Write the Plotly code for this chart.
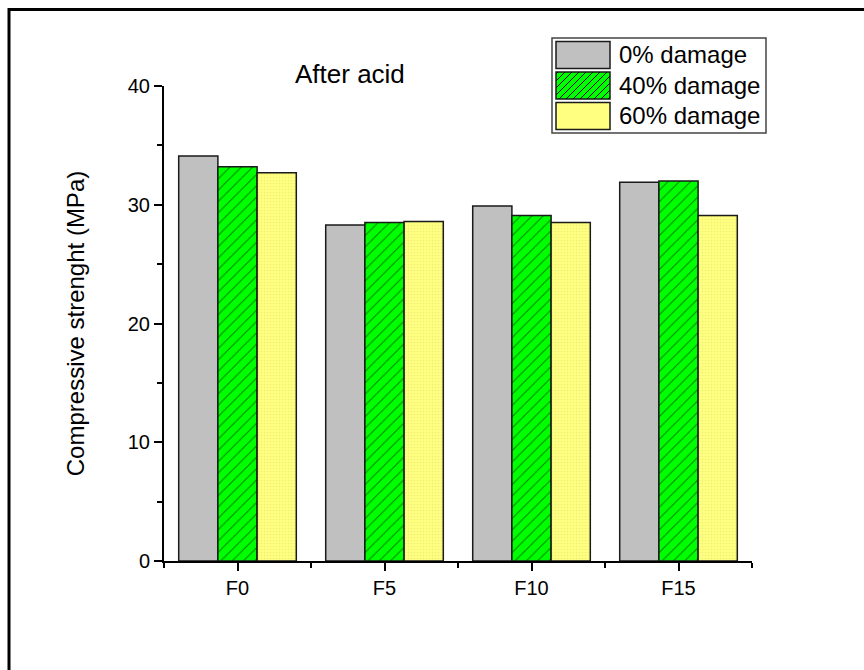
import plotly.graph_objects as go

# ---- data ----
categories = ["F0", "F5", "F10", "F15"]
series_names = ["0% damage", "40% damage", "60% damage"]
damage_0 = [34.1, 28.3, 29.9, 31.9]
damage_40 = [33.2, 28.5, 29.1, 32.0]
damage_60 = [32.7, 28.6, 28.5, 29.1]
y_ticks = [0, 10, 20, 30, 40]

# ---- layout geometry (pixels) ----
W, H = 864, 670
L, R, T, B = 164, 752, 86, 561


def px(x):
    return (x - L) / (R - L)


def py(y):
    return (B - y) / (B - T)


xpos = list(range(len(categories)))
FONT = "Liberation Sans, Arial, sans-serif"
OUT = dict(color="#1a1a1a", width=1.5)

fig = go.Figure()
fig.add_trace(go.Bar(x=xpos, y=damage_0, name=series_names[0],
                     marker=dict(color="#C0C0C0", line=OUT)))
fig.add_trace(go.Bar(x=xpos, y=damage_40, name=series_names[1],
                     marker=dict(color="#00FF00", line=OUT,
                                 pattern=dict(shape="/", size=8, solidity=0.12,
                                              fgcolor="#000000", fillmode="overlay"))))
fig.add_trace(go.Bar(x=xpos, y=damage_60, name=series_names[2],
                     marker=dict(color="#FFFF80", line=OUT,
                                 pattern=dict(shape=".", size=3, solidity=0.25,
                                              fgcolor="#E0E070", fillmode="overlay"))))

shapes = []
annotations = []

# outer frame (top and left edges)
shapes.append(dict(type="line", xref="paper", yref="paper",
                   x0=px(9), x1=px(W + 5), y0=py(9.5), y1=py(9.5),
                   line=dict(color="black", width=3)))
shapes.append(dict(type="line", xref="paper", yref="paper",
                   x0=px(9), x1=px(9), y0=py(8), y1=py(H + 5),
                   line=dict(color="black", width=3)))

# legend box
shapes.append(dict(type="rect", xref="paper", yref="paper",
                   x0=px(552), x1=px(766), y0=py(38), y1=py(133),
                   line=dict(color="#444444", width=1.5), fillcolor="white"))
sw_x0, sw_x1 = 556, 610
rows = [(41.5, 68.5), (72, 99), (102.5, 129.5)]
fills = ["#C0C0C0", "#00FF00", "#FFFF80"]
for i, ((ya, yb), fc) in enumerate(zip(rows, fills)):
    shapes.append(dict(type="rect", xref="paper", yref="paper",
                       x0=px(sw_x0), x1=px(sw_x1), y0=py(ya), y1=py(yb),
                       line=dict(color="#1a1a1a", width=1.5), fillcolor=fc))
    annotations.append(dict(xref="paper", yref="paper", x=px(617), y=py((ya + yb) / 2),
                            text=series_names[i], showarrow=False, xanchor="left",
                            yanchor="middle", font=dict(family=FONT, size=24, color="black")))
    if i == 1:
        w, h, s = sw_x1 - sw_x0, yb - ya, 7
        c = -h + 2
        while c < w:
            u0, v0 = c, 0.0
            u1, v1 = c + h, h
            if u0 < 0:
                v0 = -u0
                u0 = 0
            if u1 > w:
                v1 = h - (u1 - w)
                u1 = w
            if u1 > u0:
                shapes.append(dict(type="line", xref="paper", yref="paper",
                                   x0=px(sw_x0 + u0), y0=py(yb - v0),
                                   x1=px(sw_x0 + u1), y1=py(yb - v1),
                                   line=dict(color="black", width=1)))
            c += s

# chart title
annotations.append(dict(xref="paper", yref="paper", x=px(350), y=py(74),
                        text="After acid", showarrow=False, xanchor="center",
                        yanchor="middle", font=dict(family=FONT, size=26, color="black")))

fig.update_layout(
    width=W, height=H,
    margin=dict(l=L, r=W - R, t=T, b=H - B, pad=0),
    paper_bgcolor="white", plot_bgcolor="white",
    barmode="group", bargap=0.2, bargroupgap=0,
    showlegend=False,
    font=dict(family=FONT, color="black"),
    shapes=shapes, annotations=annotations,
)
fig.update_xaxes(
    range=[-0.5, len(categories) - 0.5],
    tickmode="array", tickvals=xpos, ticktext=categories,
    ticks="outside", ticklen=8, tickwidth=1.5, tickcolor="black",
    showline=True, linecolor="black", linewidth=2,
    showgrid=False, zeroline=False,
    tickfont=dict(family=FONT, size=20, color="black"),
    minor=dict(tickmode="linear", tick0=-0.5, dtick=1, ticks="outside",
               ticklen=5, tickwidth=1.5, tickcolor="black", showgrid=False),
)
fig.update_yaxes(
    range=[0, 40],
    tickmode="array", tickvals=y_ticks,
    ticks="outside", ticklen=8, tickwidth=1.5, tickcolor="black",
    showline=True, linecolor="black", linewidth=2,
    showgrid=False, zeroline=False,
    tickfont=dict(family=FONT, size=20, color="black"),
    minor=dict(tickmode="linear", tick0=5, dtick=10, ticks="outside",
               ticklen=5, tickwidth=1.5, tickcolor="black", showgrid=False),
    title=dict(text="Compressive strenght (MPa)", standoff=36,
               font=dict(family=FONT, size=24, color="black")),
)

fig.write_html(
    "out.html", config={"displayModeBar": False},
    post_script=("document.body.style.margin='0';document.body.style.overflow='hidden';"
                 "document.documentElement.style.overflow='hidden';"))
